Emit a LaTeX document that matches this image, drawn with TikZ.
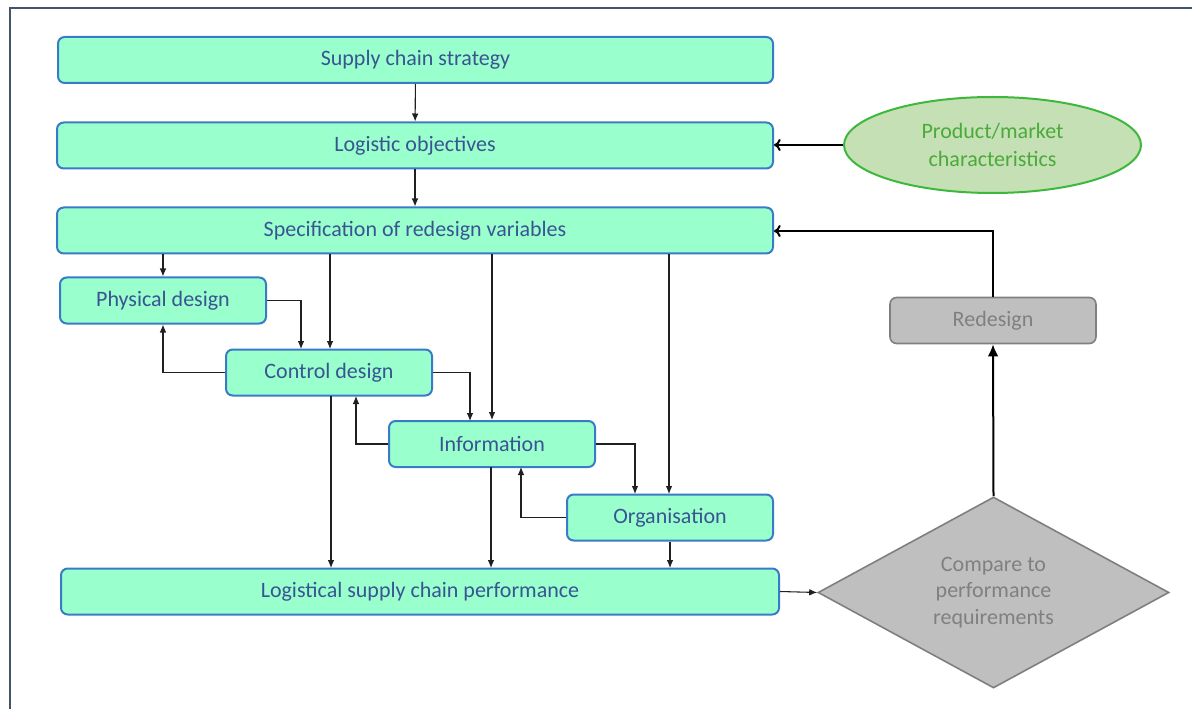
\documentclass[tikz,border=0pt]{standalone}
\usepackage{fontspec}
\setmainfont{Carlito}
\usetikzlibrary{arrows.meta,shapes.geometric}
\definecolor{boxfill}{HTML}{99FFCC}
\definecolor{boxdraw}{HTML}{3A7BC8}
\definecolor{boxtext}{HTML}{3A5493}
\definecolor{ellfill}{HTML}{C5E0B4}
\definecolor{elldraw}{HTML}{3DB83D}
\definecolor{elltext}{HTML}{4AAA3A}
\definecolor{grayfill}{HTML}{BFBFBF}
\definecolor{graydraw}{HTML}{7F7F7F}
\definecolor{graytext}{HTML}{808080}
\definecolor{frame}{HTML}{44546A}
\definecolor{conn}{HTML}{202020}
\tikzset{
  greenbox/.style={draw=boxdraw, line width=1.5pt, fill=boxfill, rounded corners=5pt,
    text=boxtext, font=\fontsize{16.5}{20}\selectfont, inner sep=0pt, anchor=center},
  graybox/.style={draw=graydraw, line width=1.2pt, fill=grayfill, rounded corners=5pt,
    text=graytext, font=\fontsize{16.5}{20}\selectfont, inner sep=0pt},
  conn/.style={draw=conn, line width=0.8pt, -{Latex[length=6pt,width=5pt]}},
  thickopen/.style={draw=black, line width=1.5pt, -{To[length=5pt,width=9pt]}},
}
\begin{document}
\begin{tikzpicture}[x=0.75pt,y=-0.75pt]
\useasboundingbox (0,0) rectangle (1192,709);
\draw[frame, line width=2pt] (10,709) -- (10,8) -- (1192,8);

\node[greenbox, minimum width=715*0.75pt, minimum height=46*0.75pt] (strat) at (415.5,60) {Supply chain strategy};
\node[greenbox, minimum width=716*0.75pt, minimum height=46*0.75pt] (obj) at (415,145.5) {Logistic objectives};
\node[greenbox, minimum width=716*0.75pt, minimum height=46*0.75pt] (spec) at (415,230.5) {Specification of redesign variables};
\node[greenbox, minimum width=206*0.75pt, minimum height=46*0.75pt] (phys) at (163,300.5) {Physical design};
\node[greenbox, minimum width=206*0.75pt, minimum height=46*0.75pt] (ctrl) at (329,372.5) {Control design};
\node[greenbox, minimum width=206*0.75pt, minimum height=46*0.75pt] (info) at (492,444) {Information};
\node[greenbox, minimum width=206*0.75pt, minimum height=46*0.75pt] (org) at (670,517.5) {Organisation};
\node[greenbox, minimum width=718*0.75pt, minimum height=46*0.75pt] (perf) at (420,591.5) {Logistical supply chain performance};

\node[ellipse, draw=elldraw, line width=1.5pt, fill=ellfill, text=elltext,
  font=\fontsize{16.5}{21}\selectfont, align=center, inner sep=0pt,
  minimum width=297*0.75pt, minimum height=96*0.75pt] (pm) at (992.5,145) {Product/market\\characteristics};
\node[graybox, minimum width=206*0.75pt, minimum height=46*0.75pt] (red) at (993,320.5) {Redesign};
\node[diamond, draw=graydraw, line width=1.2pt, fill=grayfill, text=graytext,
  font=\fontsize{16.5}{20}\selectfont, align=center, inner sep=0pt,
  minimum width=351*0.75pt, minimum height=191*0.75pt, aspect=1.84] (cmp) at (993.5,592.5)
  {Compare to\\performance\\requirements};

% main chain
\draw[conn] (strat) -- (obj);
\draw[conn] (obj) -- (spec);
\draw[thickopen] (pm.west) -- (obj.east |- pm.west);
\draw[thickopen] (red.north) |- (spec.east |- 0,231);
\draw[draw=black, line width=1.5pt, -{Latex[length=9pt,width=8pt]}] (cmp.north) -- (red.south);
\draw[conn] (perf.east) -- (cmp.west);

% from specification
\draw[conn] (spec.south -| phys.north) -- (phys.north);
\draw[conn] (spec.south -| 330,0) -- (330,349);
\draw[conn] (spec.south -| info.north) -- (info.north);
\draw[conn] (spec.south -| 669,0) -- (669,494);

% lateral flows
\draw[conn] (phys.east) -| (301,349);
\draw[conn] (ctrl.west) -| (phys.south);
\draw[conn] (ctrl.east) -| (470,421);
\draw[conn] (info.west) -| (356,396);
\draw[conn] (info.east) -| (635,494);
\draw[conn] (org.west) -| (521,467);

% to performance
\draw[conn] (331,396) -- (331,568);
\draw[conn] (491,467) -- (491,568);
\draw[conn] (org.south) -- (670,568);
\end{tikzpicture}
\end{document}
